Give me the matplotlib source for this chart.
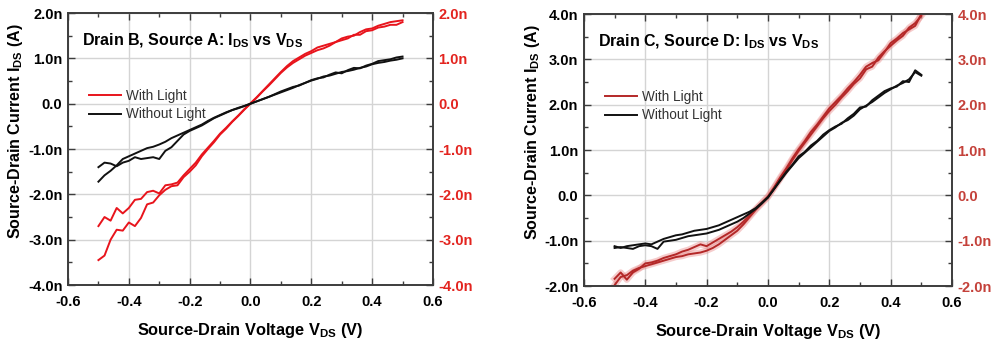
import matplotlib
matplotlib.use('Agg')
import matplotlib.pyplot as plt
from matplotlib.ticker import MultipleLocator, FuncFormatter

plt.rcParams['font.family'] = ['Liberation Sans', 'DejaVu Sans']
plt.rcParams['mathtext.fontset'] = 'custom'
plt.rcParams['mathtext.rm'] = 'Liberation Sans:bold'
plt.rcParams['mathtext.bf'] = 'Liberation Sans:bold'
plt.rcParams['mathtext.default'] = 'rm'

# sweep voltage (V), shared by every branch
vds = [-0.50, -0.48, -0.46, -0.44, -0.42, -0.40, -0.38, -0.36, -0.34, -0.32,
       -0.30, -0.28, -0.26, -0.24, -0.22, -0.20, -0.18, -0.16, -0.14, -0.12,
       -0.10, -0.08, -0.06, -0.04, -0.02, 0.00, 0.02, 0.04, 0.06, 0.08,
       0.10, 0.12, 0.14, 0.16, 0.18, 0.20, 0.22, 0.24, 0.26, 0.28,
       0.30, 0.32, 0.34, 0.36, 0.38, 0.40, 0.42, 0.44, 0.46, 0.48, 0.50]

# Drain B / Source A, current in nA (forward and reverse sweep)
ba_light_fwd = [-3.45, -3.35, -3.00, -2.78, -2.80, -2.62, -2.70, -2.52, -2.22, -2.18,
                -2.02, -1.90, -1.82, -1.80, -1.62, -1.50, -1.36, -1.16, -1.00, -0.85,
                -0.68, -0.55, -0.40, -0.27, -0.13, 0.00, 0.13, 0.27, 0.40, 0.54,
                0.68, 0.80, 0.90, 0.98, 1.06, 1.12, 1.18, 1.22, 1.28, 1.36,
                1.40, 1.44, 1.52, 1.52, 1.60, 1.62, 1.68, 1.70, 1.74, 1.74, 1.80]
ba_light_rev = [-2.70, -2.50, -2.58, -2.30, -2.42, -2.30, -2.12, -2.10, -1.95, -1.92,
                -1.98, -1.80, -1.78, -1.74, -1.58, -1.44, -1.30, -1.12, -0.97, -0.82,
                -0.66, -0.53, -0.39, -0.26, -0.12, 0.01, 0.14, 0.28, 0.42, 0.56,
                0.70, 0.83, 0.94, 1.02, 1.10, 1.16, 1.24, 1.28, 1.32, 1.36,
                1.44, 1.48, 1.50, 1.58, 1.64, 1.66, 1.72, 1.76, 1.80, 1.82, 1.84]
ba_dark_fwd = [-1.72, -1.58, -1.48, -1.36, -1.22, -1.16, -1.10, -1.04, -0.98, -0.95,
               -0.90, -0.84, -0.76, -0.70, -0.64, -0.58, -0.52, -0.46, -0.38, -0.31,
               -0.25, -0.19, -0.14, -0.09, -0.05, 0.00, 0.05, 0.10, 0.15, 0.20,
               0.25, 0.30, 0.35, 0.41, 0.46, 0.51, 0.55, 0.60, 0.62, 0.66,
               0.70, 0.72, 0.75, 0.79, 0.82, 0.87, 0.90, 0.92, 0.95, 0.97, 1.00]
ba_dark_rev = [-1.40, -1.30, -1.32, -1.38, -1.30, -1.26, -1.18, -1.22, -1.20, -1.18,
               -1.22, -1.04, -0.96, -0.82, -0.68, -0.60, -0.54, -0.48, -0.40, -0.32,
               -0.26, -0.20, -0.14, -0.10, -0.05, 0.00, 0.05, 0.10, 0.15, 0.21,
               0.27, 0.32, 0.37, 0.40, 0.46, 0.52, 0.56, 0.58, 0.64, 0.69,
               0.67, 0.74, 0.79, 0.78, 0.84, 0.88, 0.94, 0.96, 0.98, 1.02, 1.04]

# Drain C / Source D, current in nA
cd_light_fwd = [-1.98, -1.80, -1.76, -1.66, -1.60, -1.56, -1.52, -1.48, -1.44, -1.40,
                -1.36, -1.34, -1.30, -1.28, -1.26, -1.22, -1.16, -1.08, -0.98, -0.88,
                -0.78, -0.64, -0.48, -0.32, -0.18, -0.04, 0.16, 0.36, 0.56, 0.78,
                0.98, 1.16, 1.34, 1.52, 1.70, 1.86, 2.00, 2.16, 2.30, 2.46,
                2.58, 2.78, 2.84, 3.04, 3.18, 3.30, 3.42, 3.52, 3.70, 3.80, 3.96]
cd_light_rev = [-1.84, -1.70, -1.86, -1.70, -1.62, -1.50, -1.48, -1.44, -1.38, -1.34,
                -1.30, -1.24, -1.20, -1.14, -1.08, -1.12, -1.04, -0.96, -0.88, -0.80,
                -0.70, -0.58, -0.44, -0.30, -0.16, -0.02, 0.18, 0.40, 0.60, 0.82,
                1.02, 1.20, 1.40, 1.56, 1.74, 1.92, 2.06, 2.20, 2.36, 2.50,
                2.66, 2.84, 2.92, 2.98, 3.16, 3.36, 3.46, 3.58, 3.66, 3.74, 4.00]
cd_dark_fwd = [-1.16, -1.14, -1.16, -1.18, -1.12, -1.10, -1.12, -1.18, -1.02, -1.00,
               -0.98, -0.94, -0.90, -0.88, -0.86, -0.84, -0.80, -0.76, -0.70, -0.64,
               -0.58, -0.50, -0.40, -0.30, -0.18, -0.05, 0.14, 0.32, 0.50, 0.66,
               0.82, 0.94, 1.06, 1.18, 1.30, 1.42, 1.50, 1.60, 1.66, 1.76,
               1.90, 1.98, 2.06, 2.16, 2.26, 2.34, 2.42, 2.48, 2.56, 2.72, 2.64]
cd_dark_rev = [-1.12, -1.16, -1.12, -1.10, -1.08, -1.06, -1.08, -1.02, -0.96, -0.92,
               -0.88, -0.86, -0.82, -0.78, -0.76, -0.74, -0.70, -0.66, -0.60, -0.54,
               -0.48, -0.42, -0.36, -0.28, -0.16, -0.04, 0.14, 0.34, 0.52, 0.68,
               0.86, 0.96, 1.10, 1.20, 1.34, 1.44, 1.52, 1.58, 1.70, 1.80,
               1.94, 1.96, 2.10, 2.20, 2.30, 2.36, 2.40, 2.52, 2.50, 2.76, 2.66]

titles = ['Drain B, Source A: I$_{DS}$ vs V$_{DS}$',
          'Drain C, Source D: I$_{DS}$ vs V$_{DS}$']
ylims = [(-4, 2), (-2, 4)]
red_colors = ['#e8141c', '#b42828']
right_tick_colors = ['#e3241f', '#c4413a']
ylabel_x = [-0.118, -0.114]

spine_col = '#3c3c3c'


def nano(v, pos):
    if abs(v) < 1e-9:
        return '0.0'
    return f'{v:.1f}n'


fig = plt.figure(figsize=(9.93, 3.43), dpi=100)
ax1 = fig.add_axes([0.0685, 0.169, 0.3675, 0.793])
ax2 = fig.add_axes([0.588, 0.166, 0.3707, 0.793])

panels = [
    (ax1, ba_light_fwd, ba_light_rev, ba_dark_fwd, ba_dark_rev),
    (ax2, cd_light_fwd, cd_light_rev, cd_dark_fwd, cd_dark_rev),
]

for i, (ax, lf, lr, df, dr) in enumerate(panels):
    red = red_colors[i]
    if i == 1:
        # soft halo around the illuminated trace
        ax.plot(vds, lf, color='#e88080', lw=4.5, alpha=0.4, zorder=2)
        ax.plot(vds, lr, color='#e88080', lw=4.5, alpha=0.4, zorder=2)
    ax.plot(vds, lf, color=red, lw=1.4, zorder=3, label='With Light')
    ax.plot(vds, lr, color=red, lw=1.4, zorder=3)
    ax.plot(vds, df, color='#111111', lw=1.4, zorder=3, label='Without Light')
    ax.plot(vds, dr, color='#111111', lw=1.4, zorder=3)

    ax.set_xlim(-0.6, 0.6)
    ax.set_ylim(*ylims[i])
    ax.xaxis.set_major_locator(MultipleLocator(0.2))
    ax.xaxis.set_minor_locator(MultipleLocator(0.1))
    ax.yaxis.set_major_locator(MultipleLocator(1.0))
    ax.yaxis.set_minor_locator(MultipleLocator(0.5))
    ax.yaxis.set_major_formatter(FuncFormatter(nano))
    ax.xaxis.set_major_formatter(FuncFormatter(lambda v, p: f'{v:.1f}'))
    ax.grid(True, which='major', color='#d4d4d4', lw=1.0)
    ax.set_axisbelow(True)

    ax.tick_params(which='both', direction='in', top=True, right=False,
                   color=spine_col, width=1.0, labelsize=10.5)
    ax.tick_params(axis='y', pad=4)
    ax.tick_params(axis='x', pad=7)
    ax.tick_params(which='major', length=5)
    ax.tick_params(which='minor', length=3)
    for lab in ax.get_xticklabels() + ax.get_yticklabels():
        lab.set_fontweight('bold')
    for s in ax.spines.values():
        s.set_color(spine_col)
        s.set_linewidth(1.2)

    ax.set_xlabel('Source-Drain Voltage V$_{DS}$ (V)', fontsize=11.8,
                  fontweight='bold', labelpad=9)
    ax.set_ylabel('Source-Drain Current I$_{DS}$ (A)', fontsize=11.5,
                  fontweight='bold')
    ax.yaxis.set_label_coords(ylabel_x[i], 0.566)

    ax.text(0.037, 0.897, titles[i], transform=ax.transAxes, fontsize=11.5,
            fontweight='bold', va='center', ha='left')

    leg = ax.legend(loc='upper left', bbox_to_anchor=(0.042, 0.74),
                    frameon=False, fontsize=9.8, handlelength=2.4,
                    handletextpad=0.3, labelspacing=0.3, borderaxespad=0)
    for t in leg.get_texts():
        t.set_color('#333333')

    # mirrored scale on the right
    axr = ax.twinx()
    axr.set_ylim(*ylims[i])
    axr.yaxis.set_major_locator(MultipleLocator(1.0))
    axr.yaxis.set_minor_locator(MultipleLocator(0.5))
    axr.yaxis.set_major_formatter(FuncFormatter(nano))
    axr.tick_params(which='both', direction='in', color=spine_col, width=1.0,
                    labelsize=10.5, labelcolor=right_tick_colors[i], pad=4)
    axr.tick_params(which='major', length=5)
    axr.tick_params(which='minor', length=3)
    for lab in axr.get_yticklabels():
        lab.set_fontweight('bold')
    for s in axr.spines.values():
        s.set_color(spine_col)
        s.set_linewidth(1.2)

fig.savefig('out.png', dpi=100)
